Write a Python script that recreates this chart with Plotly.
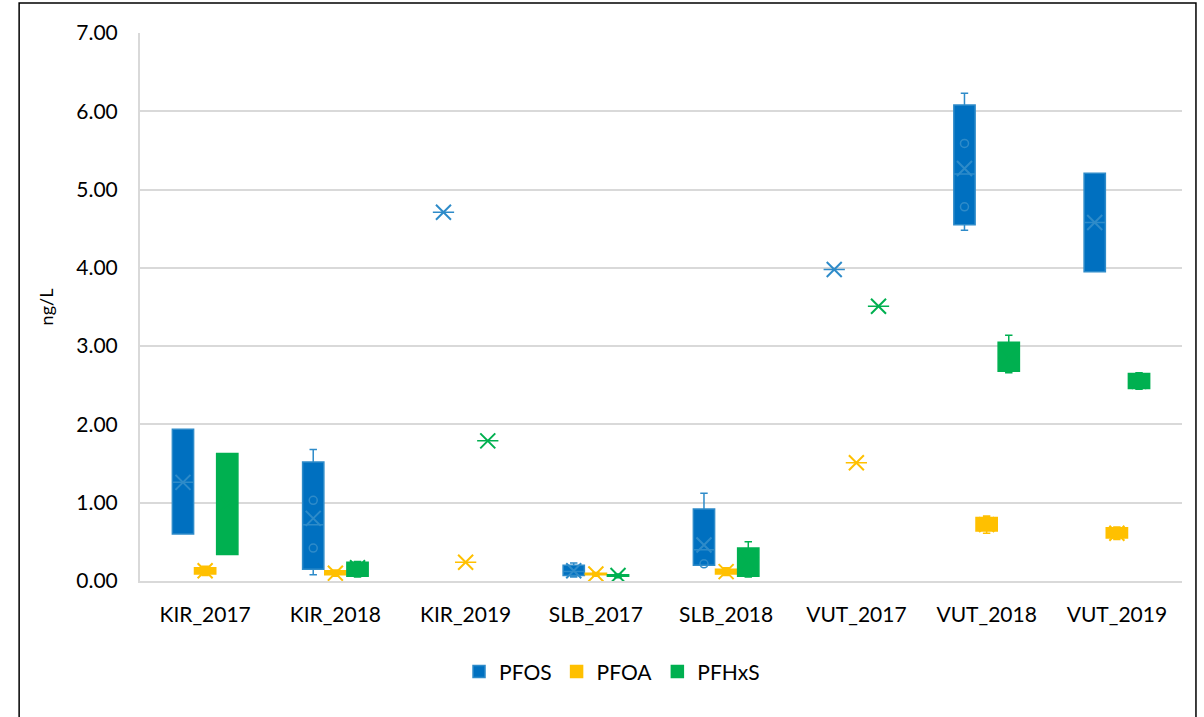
import plotly.graph_objects as go

# sampling sites / years
categories = ["KIR_2017", "KIR_2018", "KIR_2019", "SLB_2017", "SLB_2018",
              "VUT_2017", "VUT_2018", "VUT_2019"]

# box statistics per compound (ng/L)
pfos_low = [0.60, 0.08, 4.71, 0.05, 0.20, 3.98, 4.48, 3.95]
pfos_q1 = [0.60, 0.15, 4.71, 0.07, 0.20, 3.98, 4.55, 3.95]
pfos_med = [1.26, 0.72, 4.71, 0.12, 0.40, 3.98, 5.20, 4.58]
pfos_q3 = [1.94, 1.52, 4.71, 0.20, 0.92, 3.98, 6.08, 5.21]
pfos_high = [1.94, 1.68, 4.71, 0.23, 1.12, 3.98, 6.23, 5.21]
pfos_mean = [1.26, 0.80, 4.71, 0.13, 0.46, 3.98, 5.27, 4.58]
pfos_pts_x = ["KIR_2018", "KIR_2018", "SLB_2018", "VUT_2018", "VUT_2018"]
pfos_pts_y = [1.03, 0.42, 0.22, 5.59, 4.78]

pfoa_low = [0.07, 0.06, 0.24, 0.06, 0.07, 1.51, 0.61, 0.53]
pfoa_q1 = [0.09, 0.08, 0.24, 0.08, 0.09, 1.51, 0.64, 0.55]
pfoa_med = [0.13, 0.10, 0.24, 0.09, 0.12, 1.51, 0.72, 0.62]
pfoa_q3 = [0.17, 0.13, 0.24, 0.10, 0.15, 1.51, 0.81, 0.68]
pfoa_high = [0.19, 0.14, 0.24, 0.11, 0.17, 1.51, 0.83, 0.69]
pfoa_mean = [0.13, 0.10, 0.24, 0.09, 0.12, 1.51, 0.72, 0.61]

pfhxs_low = [0.34, 0.05, 1.79, 0.04, 0.05, 3.51, 2.66, 2.45]
pfhxs_q1 = [0.34, 0.06, 1.79, 0.06, 0.06, 3.51, 2.68, 2.46]
pfhxs_med = [0.98, 0.17, 1.79, 0.07, 0.30, 3.51, 2.85, 2.55]
pfhxs_q3 = [1.63, 0.24, 1.79, 0.08, 0.42, 3.51, 3.05, 2.65]
pfhxs_high = [1.63, 0.25, 1.79, 0.09, 0.50, 3.51, 3.14, 2.66]
pfhxs_mean = [0.98, 0.17, 1.79, 0.07, 0.26, 3.51, 2.86, 2.55]

series = [
    ("PFOS", "#0070C0", "#2E8BC9", pfos_low, pfos_q1, pfos_med, pfos_q3, pfos_high, pfos_mean),
    ("PFOA", "#FFC000", "#FFC000", pfoa_low, pfoa_q1, pfoa_med, pfoa_q3, pfoa_high, pfoa_mean),
    ("PFHxS", "#00B050", "#00B050", pfhxs_low, pfhxs_q1, pfhxs_med, pfhxs_q3, pfhxs_high, pfhxs_mean),
]

FONT = "Lato"
fig = go.Figure()

for name, fill, edge, lo, q1, med, q3, hi, mean in series:
    fig.add_trace(go.Box(
        name=name,
        x=categories,
        q1=q1, median=med, q3=q3,
        lowerfence=lo, upperfence=hi,
        fillcolor=fill,
        line=dict(color=edge, width=1.5),
        whiskerwidth=0.35,
        offsetgroup=name,
        alignmentgroup="g",
        boxpoints=False,
    ))

# mean markers (X), grouped the same way as the boxes
for name, fill, edge, lo, q1, med, q3, hi, mean in series:
    fig.add_trace(go.Scatter(
        x=categories, y=mean, mode="markers",
        marker=dict(symbol="x-thin", size=15, line=dict(color=edge, width=2)),
        offsetgroup=name, alignmentgroup="g",
        showlegend=False, hoverinfo="skip",
    ))

# inner points of the PFOS boxes
fig.add_trace(go.Scatter(
    x=pfos_pts_x, y=pfos_pts_y, mode="markers",
    marker=dict(symbol="circle-open", size=8, color="#2E8BC9",
                line=dict(color="#2E8BC9", width=1.5)),
    offsetgroup="PFOS", alignmentgroup="g",
    showlegend=False, hoverinfo="skip",
))

fig.update_layout(
    width=1204, height=717,
    margin=dict(l=140, r=22, t=33, b=136),
    paper_bgcolor="white", plot_bgcolor="white",
    boxmode="group", boxgap=0.49, boxgroupgap=0.04,
    scattermode="group", scattergap=0.49,
    font=dict(family=FONT, color="#000000"),
    legend=dict(
        orientation="h", x=0.453, xanchor="center", y=-0.166, yanchor="middle",
        font=dict(size=21, family=FONT), traceorder="normal",
    ),
    shapes=[dict(
        type="rect", xref="paper", yref="paper",
        x0=-0.116, x1=1.0134, y0=-0.3, y1=1.0547,
        line=dict(color="black", width=1.5),
    )],
)

fig.update_xaxes(
    type="category",
    showline=True, linecolor="#D9D9D9", linewidth=2,
    showgrid=False,
    tickfont=dict(size=21, family=FONT),
    ticklabelstandoff=14,
)
fig.update_yaxes(
    range=[0, 7], dtick=1, tickformat=".2f",
    showgrid=True, gridcolor="#D9D9D9", gridwidth=2,
    showline=True, linecolor="#D9D9D9", linewidth=2,
    zeroline=False,
    tickfont=dict(size=21, family=FONT),
    ticklabelstandoff=16,
    title=dict(text="ng/L", font=dict(size=18, family=FONT), standoff=18),
)

# drop the default page margin so the figure sits at the window's corner
fig.write_html("out.html", config={"displayModeBar": False},
               post_script="document.body.style.margin='0';")
